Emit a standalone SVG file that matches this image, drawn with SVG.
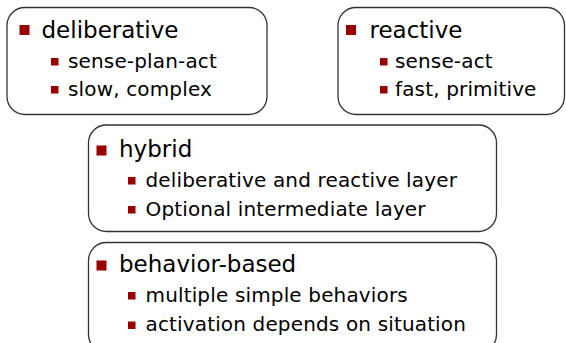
<svg xmlns="http://www.w3.org/2000/svg" width="566" height="343" viewBox="0 0 566 343">
<style>
.box{fill:#fff;stroke:#333;stroke-width:1.3}
.t{font-family:"DejaVu Sans",Verdana,sans-serif;font-size:23px;fill:#000}
.s{font-family:"DejaVu Sans",Verdana,sans-serif;font-size:20px;letter-spacing:0.15px;fill:#000}
.b{fill:#990000}
</style>
<rect width="566" height="343" fill="#fff"/>
<g id="deliberative">
<rect class="box" x="7" y="7.5" width="260" height="107" rx="18"/>
<rect class="b" x="19.5" y="25" width="10" height="10"/>
<text class="t" x="41.5" y="37.5">deliberative</text>
<rect class="b" x="51" y="58" width="7.5" height="7.5"/>
<text class="s" x="68" y="67.5">sense-plan-act</text>
<rect class="b" x="51" y="86" width="7.5" height="7.5"/>
<text class="s" x="68" y="95.5">slow, complex</text>
</g>
<g id="reactive">
<rect class="box" x="338" y="7.5" width="226.5" height="107" rx="18"/>
<rect class="b" x="346" y="25" width="10" height="10"/>
<text class="t" x="369.5" y="37.5">reactive</text>
<rect class="b" x="380" y="58" width="7.5" height="7.5"/>
<text class="s" x="395" y="67.5">sense-act</text>
<rect class="b" x="380" y="86" width="7.5" height="7.5"/>
<text class="s" x="395" y="95.5">fast, primitive</text>
</g>
<g id="hybrid">
<rect class="box" x="88.5" y="125" width="408" height="106.5" rx="18"/>
<rect class="b" x="96.5" y="145.5" width="10" height="10"/>
<text class="t" x="119" y="157">hybrid</text>
<rect class="b" x="128" y="177" width="7.5" height="7.5"/>
<text class="s" x="145.5" y="186.5">deliberative and reactive layer</text>
<rect class="b" x="128" y="206" width="7.5" height="7.5"/>
<text class="s" x="145.5" y="215.5">Optional intermediate layer</text>
</g>
<g id="behavior-based">
<rect class="box" x="88.5" y="242.5" width="408" height="110" rx="18"/>
<rect class="b" x="96.5" y="260.5" width="10" height="10"/>
<text class="t" x="119" y="272">behavior-based</text>
<rect class="b" x="128" y="292" width="7.5" height="7.5"/>
<text class="s" x="145.5" y="301.5">multiple simple behaviors</text>
<rect class="b" x="128" y="321.5" width="7.5" height="7.5"/>
<text class="s" x="145.5" y="331">activation depends on situation</text>
</g>
<g id="connectors"/>
</svg>
